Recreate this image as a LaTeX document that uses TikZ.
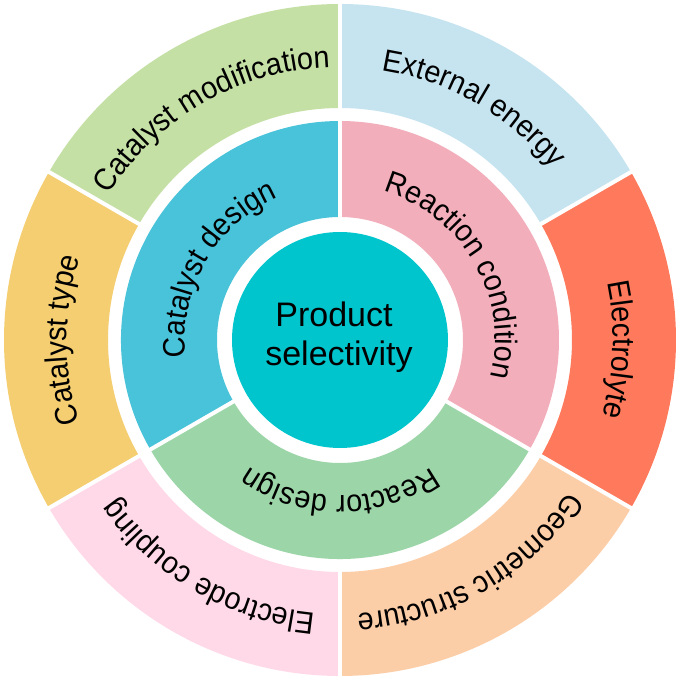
\documentclass[tikz,border=0pt]{standalone}
\usepackage{fontspec}
\setmainfont{Liberation Sans}
\newfontfamily\ringface[FakeStretch=0.93]{Liberation Sans}
\usetikzlibrary{decorations.text}
\newcommand{\ringfont}{\ringface\fontsize{31}{34}\selectfont}
\definecolor{cmod}{HTML}{C5E0A5}
\definecolor{extenergy}{HTML}{C6E4F0}
\definecolor{electrolyte}{HTML}{FF7A5C}
\definecolor{geostruct}{HTML}{FCCEA8}
\definecolor{electrode}{HTML}{FFD9E7}
\definecolor{cattype}{HTML}{F4CE70}
\definecolor{catdesign}{HTML}{49C3DA}
\definecolor{reaccond}{HTML}{F2AEBA}
\definecolor{reactdesign}{HTML}{9CD6A8}
\definecolor{centre}{HTML}{00C5CC}
\newcommand{\mysector}[5]{\fill[#1] (#2:#4pt) arc[start angle=#2,end angle=#3,radius=#4pt] -- (#3:#5pt) arc[start angle=#3,end angle=#2,radius=#5pt] -- cycle;}
\newcommand{\arctext}[4]{\path[decorate,decoration={text along path,text align=center,text={|\ringfont|#4}}] (#1:#3pt) arc[start angle=#1,end angle=#2,radius=#3pt];}
\tikzset{gapline/.style={white,line width=4pt}}
\begin{document}
\begin{tikzpicture}[x=1pt,y=1pt]
\useasboundingbox[fill=white] (-340,-340) rectangle (341,340);
% outer ring
\mysector{cmod}{90}{150}{232}{336}
\mysector{cattype}{150}{210}{232}{336}
\mysector{electrode}{210}{270}{232}{336}
\mysector{geostruct}{270}{330}{232}{336}
\mysector{electrolyte}{-30}{30}{232}{336}
\mysector{extenergy}{30}{90}{232}{336}
\foreach \a in {90,150,210,270,330,30} \draw[gapline] (\a:226pt) -- (\a:340pt);
% inner ring
\mysector{catdesign}{90}{210}{123}{219}
\mysector{reactdesign}{210}{330}{123}{219}
\mysector{reaccond}{-30}{90}{123}{219}
\foreach \a in {90,210,330} \draw[gapline] (\a:115pt) -- (\a:225pt);
% centre
\fill[centre] (0,0) circle (108pt);
\node[align=center,font=\fontsize{34}{39}\selectfont,inner sep=0pt] (core) at (-1,3) {Product\hspace*{10pt}\\selectivity};
% outer labels
\arctext{150}{90}{273}{Catalyst modification}
\arctext{90}{30}{273}{External energy}
\arctext{28}{-32}{273}{Electrolyte}
\arctext{-30}{-90}{274}{Geometric structure}
\arctext{270}{210}{274}{Electrode coupling}
\arctext{210}{150}{273}{Catalyst type}
% inner labels
\arctext{210}{90}{155}{Catalyst design}
\arctext{90}{-30}{155}{Reaction condition}
\arctext{-30}{-150}{156}{Reactor design}
\end{tikzpicture}
\end{document}
